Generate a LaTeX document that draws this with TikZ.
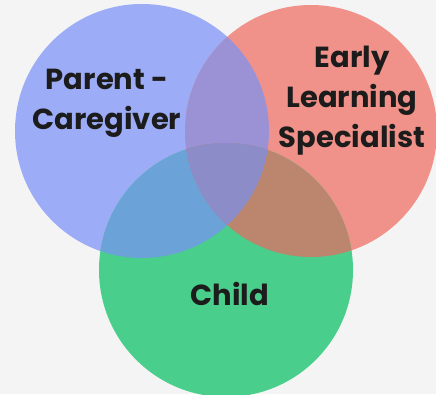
\documentclass[tikz,border=0pt]{standalone}
\usepackage{fontspec}
\setmainfont{Poppins}[BoldFont={Poppins Bold}]
\definecolor{bg}{HTML}{F4F4F4}
\definecolor{cblue}{HTML}{9CACF6}
\definecolor{cred}{HTML}{F0918A}
\definecolor{cgreen}{HTML}{49CE8B}
\definecolor{cbr}{HTML}{9B91D5}
\definecolor{cbg}{HTML}{6BA3D8}
\definecolor{crg}{HTML}{BB866D}
\definecolor{call}{HTML}{8C8CC9}
\definecolor{ink}{HTML}{1C1C1C}
\begin{document}
\begin{tikzpicture}[x=1pt,y=-1pt,
  lbl/.style={text=ink,font=\bfseries\fontsize{29}{40}\selectfont,align=center,inner sep=0pt}]
\useasboundingbox (0,0) rectangle (436,394);
\fill[bg] (0,0) rectangle (436,394);
\begin{scope}
\clip (0,0) rectangle (436,394);
\coordinate (B) at (142,131);
\coordinate (R) at (311,131);
\coordinate (G) at (226,270);
\def\rb{127}\def\rr{126}\def\rg{127}
\fill[cblue] (B) circle (\rb);
\fill[cred] (R) circle (\rr);
\fill[cgreen] (G) circle (\rg);
\begin{scope}\clip (B) circle (\rb); \fill[cbr] (R) circle (\rr);\end{scope}
\begin{scope}\clip (B) circle (\rb); \fill[cbg] (G) circle (\rg);\end{scope}
\begin{scope}\clip (R) circle (\rr); \fill[crg] (G) circle (\rg);\end{scope}
\begin{scope}\clip (B) circle (\rb); \clip (R) circle (\rr); \fill[call] (G) circle (\rg);\end{scope}
\end{scope}
\node[lbl,anchor=base] (parent) at (107,129) {Parent -\\Caregiver};
\node[lbl,anchor=base] (els) at (352,147) {Early\\Learning\\Specialist};
\node[lbl,anchor=base] (child) at (230,305) {Child};
\end{tikzpicture}
\end{document}
